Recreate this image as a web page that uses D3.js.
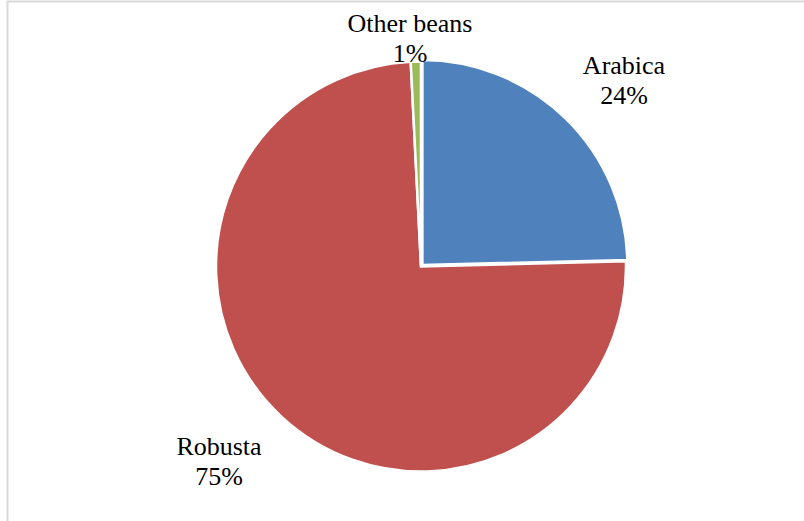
<!DOCTYPE html>
<html>
<head>
<meta charset="utf-8">
<script src="https://cdn.jsdelivr.net/npm/d3@7"></script>
<style>
  body { margin: 0; background: #fff; }
  svg text { font-family: "Liberation Serif", "Times New Roman", serif; font-size: 26px; fill: #000; }
</style>
</head>
<body>
<svg id="chart" width="804" height="521"></svg>
<script>
var categories = ["Arabica", "Robusta", "Other beans"];
var values = [24.6, 74.6, 0.8];
var pctLabels = ["24%", "75%", "1%"];
var colors = ["#4f81bd", "#c0504d", "#9bbb59"];
// label placement: centre x, first baseline y
var labelPos = [[624, 74], [219, 455], [410, 32]];
var explode = [2, 0, 0];

var svg = d3.select("#chart");
var cx = 421, cy = 266.5, radius = 205;

// chart border
svg.append("rect")
  .attr("x", 7.5).attr("y", 1.5)
  .attr("width", 820).attr("height", 540)
  .attr("fill", "none")
  .attr("stroke", "#d9d9d9")
  .attr("stroke-width", 2);

var pie = d3.pie().sort(null).value(function(d) { return d; });
var arcs = pie(values);
var arc = d3.arc().innerRadius(0).outerRadius(radius);

var g = svg.append("g").attr("transform", "translate(" + cx + "," + cy + ")");

g.selectAll("path")
  .data(arcs)
  .enter().append("path")
  .attr("d", arc)
  .attr("fill", function(d, i) { return colors[i]; })
  .attr("stroke", "#fff")
  .attr("stroke-width", 2.5)
  .attr("transform", function(d, i) {
    var a = (d.startAngle + d.endAngle) / 2;
    return "translate(" + (explode[i] * Math.sin(a)) + "," + (-explode[i] * Math.cos(a)) + ")";
  });

categories.forEach(function(name, i) {
  var t = svg.append("text")
    .attr("x", labelPos[i][0])
    .attr("y", labelPos[i][1])
    .attr("text-anchor", "middle");
  t.append("tspan").attr("x", labelPos[i][0]).text(name);
  t.append("tspan").attr("x", labelPos[i][0]).attr("dy", 29.5).text(pctLabels[i]);
});
</script>
</body>
</html>
